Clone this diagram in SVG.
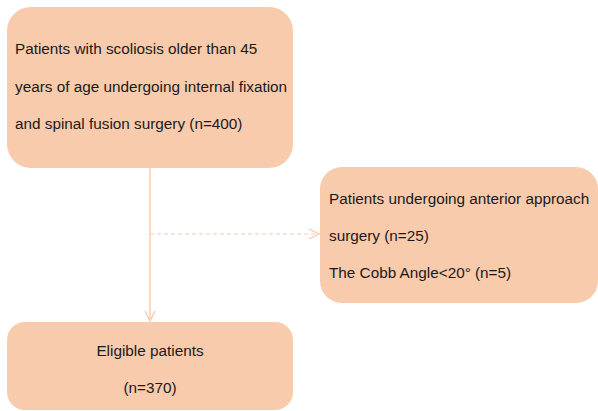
<svg xmlns="http://www.w3.org/2000/svg" width="598" height="411" viewBox="0 0 598 411">
<style>
.box{fill:#F8CBAD;stroke:none}
.t{font-family:"Liberation Sans",Arial,sans-serif;font-size:15.3px;fill:#1a1a1a}
.c{text-anchor:middle}
.ln{stroke:#F8CBAD;stroke-width:1.5;fill:none}
.dash{stroke-dasharray:4 3;stroke-width:1}
</style>
<defs>
<marker id="arr" viewBox="0 0 12 12" refX="11" refY="6" markerWidth="12" markerHeight="12" markerUnits="userSpaceOnUse" orient="auto">
<path d="M1,1 L11,6 L1,11" fill="none" stroke="#F8CBAD" stroke-width="1.3"/>
</marker>
</defs>
<g id="connectors">
<line class="ln" x1="150" y1="168" x2="150" y2="321" marker-end="url(#arr)"/>
<line class="ln dash" x1="150" y1="234" x2="319" y2="234" marker-end="url(#arr)"/>
</g>
<g id="n1">
<rect class="box" x="7" y="7" width="286" height="161" rx="24"/>
<text class="t" x="15" y="54">Patients with scoliosis older than 45</text>
<text class="t" x="15" y="92">years of age undergoing internal fixation</text>
<text class="t" x="15" y="129">and spinal fusion surgery (n=400)</text>
</g>
<g id="n2">
<rect class="box" x="320" y="167" width="278" height="136" rx="22"/>
<text class="t" x="329" y="204">Patients undergoing anterior approach</text>
<text class="t" x="329" y="241">surgery (n=25)</text>
<text class="t" x="329" y="278">The Cobb Angle&lt;20° (n=5)</text>
</g>
<g id="n3">
<rect class="box" x="7" y="322" width="286" height="88" rx="18"/>
<text class="t c" x="150" y="356">Eligible patients</text>
<text class="t c" x="150" y="393">(n=370)</text>
</g>
</svg>
